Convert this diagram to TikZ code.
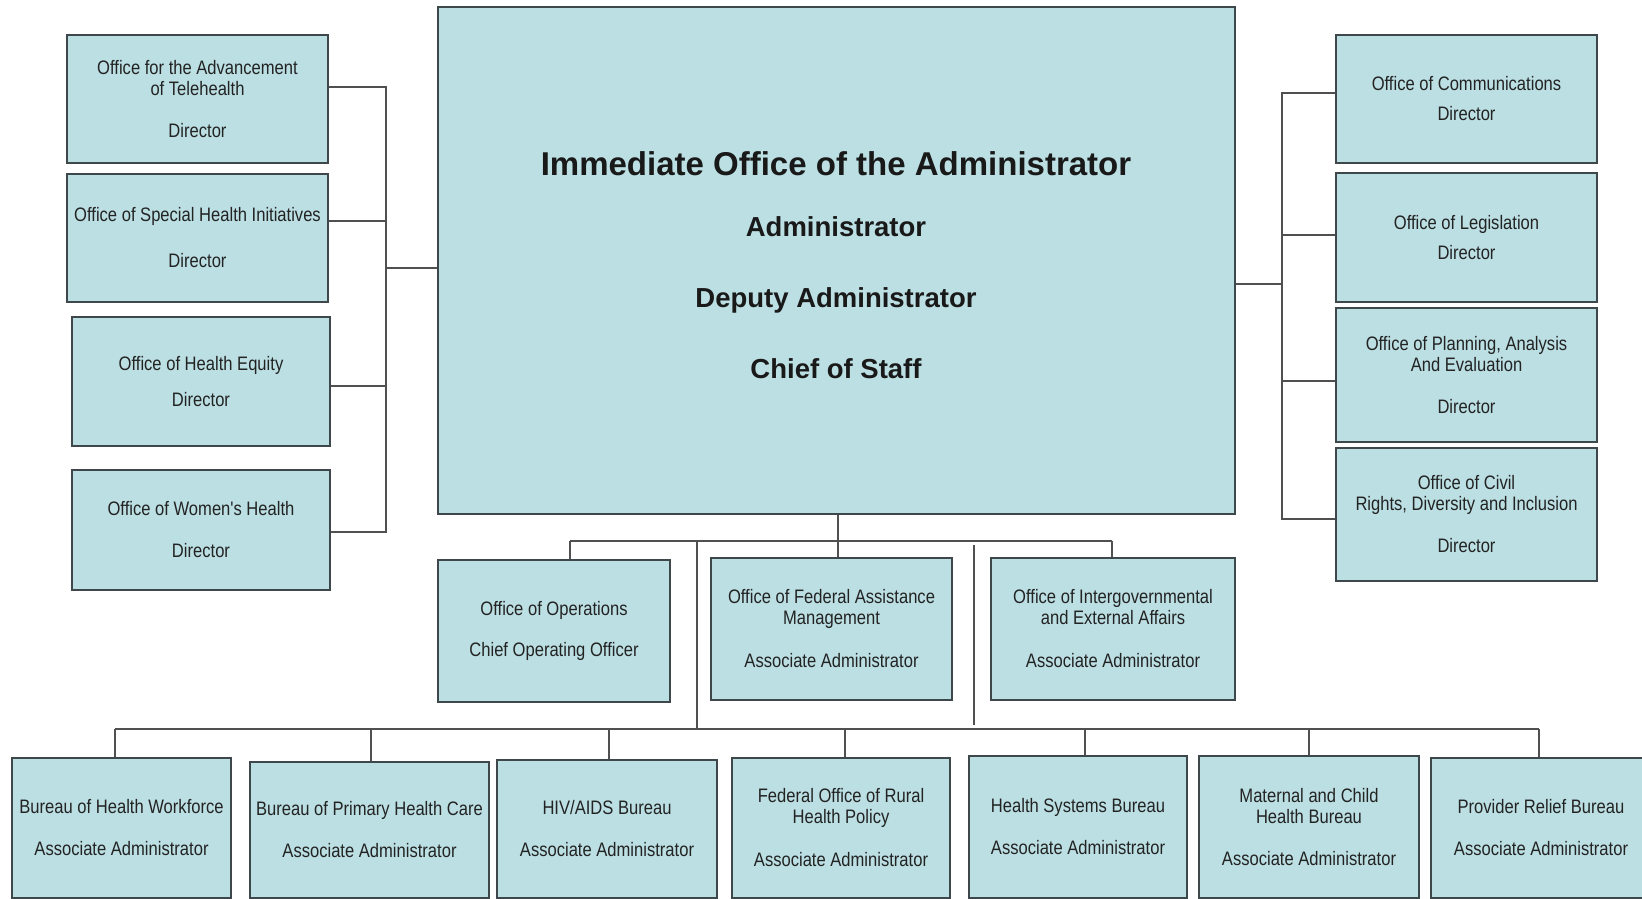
\documentclass[tikz,border=0pt]{standalone}
\usepackage{fontspec}
\setmainfont{Liberation Sans}
\newfontfamily\nf[FakeStretch=0.85]{Liberation Sans}
\definecolor{boxfill}{RGB}{187,223,227}
\definecolor{boxline}{RGB}{62,72,74}
\definecolor{conncol}{RGB}{80,80,80}
\definecolor{txtcol}{RGB}{35,35,35}
\newcommand{\ob}[6]{\node[obox, minimum width={#4-#2}, minimum height={#5-#3}] (#1) at ({(#2+#4)/2},{(#3+#5)/2}) {#6};}
\begin{document}
\begin{tikzpicture}[x=1pt,y=-1pt,
  obox/.style={draw=boxline, fill=boxfill, line width=1.8pt, rectangle, inner sep=0pt, align=center,
    font=\nf\fontsize{19.5}{21}\selectfont, text=txtcol},
  conn/.style={draw=conncol, line width=1.5pt},
  bigtxt/.style={anchor=base, inner sep=0pt, font=\bfseries\fontsize{33}{36}\selectfont, text=black!90},
  midtxt/.style={anchor=base, inner sep=0pt, font=\bfseries\fontsize{27.5}{30}\selectfont, text=black!90}]
\fill[white] (0,0) rectangle (1642,899);
\useasboundingbox (0,0) rectangle (1642,899);

% main box
\ob{main}{438}{7}{1235}{514}{}
\node[bigtxt] (t1) at (836,175) {Immediate Office of the Administrator};
\node[midtxt] (t2) at (836,236) {Administrator};
\node[midtxt] (t3) at (836,307) {Deputy Administrator};
\node[midtxt] (t4) at (836,378) {Chief of Staff};

% left boxes
\ob{tele}{67}{35}{328}{163}{Office for the Advancement\\of Telehealth\\[21pt]Director}
\ob{special}{67}{174}{328}{302}{Office of Special Health Initiatives\\[25pt]Director}
\ob{equity}{72}{317}{330}{446}{Office of Health Equity\\[15pt]Director}
\ob{women}{72}{470}{330}{590}{Office of Women's Health\\[21pt]Director}

% right boxes
\ob{comm}{1336}{35}{1597}{163}{Office of Communications\\[9pt]Director}
\ob{legis}{1336}{173}{1597}{302}{Office of Legislation\\[9pt]Director}
\ob{plan}{1336}{308}{1597}{442}{Office of Planning, Analysis\\And Evaluation\\[21pt]Director}
\ob{civil}{1336}{448}{1597}{581}{Office of Civil\\Rights, Diversity and Inclusion\\[21pt]Director}

% middle row
\ob{ops}{438}{560}{670}{702}{Office of Operations\\[20pt]Chief Operating Officer}
\ob{fed}{711}{558}{952}{700}{Office of Federal Assistance\\Management\\[22pt]Associate Administrator}
\ob{inter}{991}{558}{1235}{700}{Office of Intergovernmental\\and External Affairs\\[22pt]Associate Administrator}

% bottom row
\ob{b1}{12}{758}{231}{898}{Bureau of Health Workforce\\[21pt]Associate Administrator}
\ob{b2}{250}{762}{489}{898}{Bureau of Primary Health Care\\[21pt]Associate Administrator}
\ob{b3}{497}{760}{717}{898}{HIV/AIDS Bureau\\[21pt]Associate Administrator}
\ob{b4}{732}{758}{950}{898}{Federal Office of Rural\\Health Policy\\[22pt]Associate Administrator}
\ob{b5}{969}{756}{1187}{898}{Health Systems Bureau\\[21pt]Associate Administrator}
\ob{b6}{1199}{756}{1419}{898}{Maternal and Child\\Health Bureau\\[21pt]Associate Administrator}
\ob{b7}{1431}{758}{1651}{898}{Provider Relief Bureau\\[21pt]Associate Administrator}

% left bus
\coordinate (l1) at (386,87);
\coordinate (l2) at (386,221);
\coordinate (l3) at (386,386);
\coordinate (l4) at (386,532);
\coordinate (lm) at (386,268);
\draw[conn] (tele.east |- l1) -- (l1) -- (l4) -- (women.east |- l4);
\draw[conn] (special.east |- l2) -- (l2);
\draw[conn] (equity.east |- l3) -- (l3);
\draw[conn] (lm) -- (main.west |- lm);

% right bus
\coordinate (r1) at (1282,93);
\coordinate (r2) at (1282,235);
\coordinate (r3) at (1282,381);
\coordinate (r4) at (1282,519);
\coordinate (rm) at (1282,284);
\draw[conn] (comm.west |- r1) -- (r1) -- (r4) -- (civil.west |- r4);
\draw[conn] (legis.west |- r2) -- (r2);
\draw[conn] (plan.west |- r3) -- (r3);
\draw[conn] (rm) -- (main.east |- rm);

% middle bus
\coordinate (mb) at (838,541);
\coordinate (mL) at (570,541);
\coordinate (mR) at (1112,541);
\draw[conn] (main.south -| mb) -- (mb);
\draw[conn] (mL) -- (mR);
\draw[conn] (mL) -- (ops.north -| mL);
\draw[conn] (mb) -- (fed.north -| mb);
\draw[conn] (mR) -- (inter.north -| mR);

% link to bottom bus
\coordinate (vA) at (697,541);
\coordinate (vB) at (697,729);
\draw[conn] (vA) -- (vB);
\coordinate (fA) at (974,545);
\coordinate (fB) at (974,725);
\draw[conn] (fA) -- (fB);

% bottom bus
\coordinate (d1) at (115,729);
\coordinate (d2) at (371,729);
\coordinate (d3) at (609,729);
\coordinate (d4) at (845,729);
\coordinate (d5) at (1085,729);
\coordinate (d6) at (1309,729);
\coordinate (d7) at (1539,729);
\draw[conn] (d1) -- (d7);
\foreach \k in {1,...,7} {\draw[conn] (d\k) -- (b\k.north -| d\k);}
\end{tikzpicture}
\end{document}
